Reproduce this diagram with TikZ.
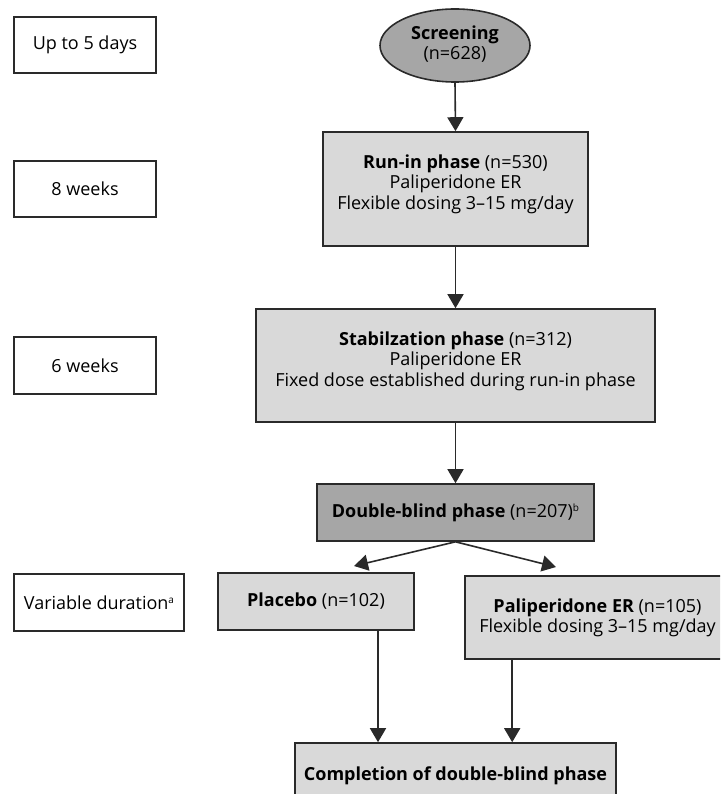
\documentclass[tikz,border=0pt]{standalone}
\usepackage{fontspec}
\setmainfont{Open Sans}
\usetikzlibrary{arrows.meta,shapes.geometric}
\definecolor{edge}{HTML}{2A2A2A}
\definecolor{lightfill}{HTML}{D9D9D9}
\definecolor{darkfill}{HTML}{A6A6A6}
\newcommand{\smallsup}[1]{\raisebox{6pt}{\fontsize{10}{10}\selectfont #1}}
\tikzset{
  boxbase/.style={draw=edge,line width=1.6pt,rectangle,inner sep=0pt,font=\fontsize{18}{20}\selectfont},
  timebox/.style={boxbase,fill=white},
  phasebox/.style={boxbase,fill=lightfill},
  darkbox/.style={boxbase,fill=darkfill},
  txt/.style={inner sep=0pt,align=center,font=\fontsize{18}{20.5}\selectfont},
  arr/.style={draw=edge,line width=1.6pt,-{Triangle[length=14pt,width=16pt]}}
}
\begin{document}
\begin{tikzpicture}[x=1pt,y=-1pt]
\clip (0,0) rectangle (720,794);
\useasboundingbox (0,0) rectangle (720,794);
% time boxes
\node[timebox,minimum width=142pt,minimum height=56pt] (t1) at (85,45) {Up to 5 days};
\node[timebox,minimum width=142pt,minimum height=56pt] (t2) at (85,189) {8 weeks};
\node[timebox,minimum width=142pt,minimum height=57pt] (t3) at (85,365.5) {6 weeks};
\node[timebox,minimum width=170pt,minimum height=57pt] (t4) at (99,602.5) {Variable duration\smallsup{a}};
% screening
\node[draw=edge,line width=1.6pt,fill=darkfill,ellipse,minimum width=150pt,minimum height=73pt,inner sep=0pt] (scr) at (455,45.5) {};
\node[txt] (scrtxt) at (455,44) {\textbf{Screening}\\(n=628)};
% run-in
\node[phasebox,minimum width=265pt,minimum height=114pt] (run) at (455.5,189) {};
\node[txt] (runtxt) at (455.5,184) {\textbf{Run-in phase} (n=530)\\Paliperidone ER\\Flexible dosing 3–15 mg/day};
% stabilization
\node[phasebox,minimum width=399pt,minimum height=113pt] (stab) at (455.5,365.5) {};
\node[txt] (stabtxt) at (455.5,361) {\textbf{Stabilzation phase} (n=312)\\Paliperidone ER\\Fixed dose established during run-in phase};
% double-blind
\node[darkbox,minimum width=277pt,minimum height=57pt] (db) at (455.5,512.5) {\textbf{Double-blind phase} (n=207)\smallsup{b}};
% placebo
\node[phasebox,minimum width=196pt,minimum height=57pt] (pla) at (316,601.5) {\textbf{Placebo} (n=102)};
% paliperidone
\node[phasebox,minimum width=265pt,minimum height=83pt,align=center] (pal) at (597.5,617.5) {\textbf{Paliperidone ER} (n=105)\\Flexible dosing 3–15 mg/day};
% completion
\node[phasebox,minimum width=321pt,minimum height=65pt] (comp) at (455.5,775.5) {\textbf{Completion of double-blind phase}};
% branch targets
\coordinate (bl) at (354,566);
\coordinate (br) at (556,567);
% arrows
\draw[arr] (scr.south) -- (run.north);
\draw[arr] (run.south) -- (stab.north);
\draw[arr] (stab.south) -- (db.north);
\draw[arr] (db.south) -- (bl);
\draw[arr] (db.south) -- (br);
\draw[arr] ([xshift=62pt]pla.south) -- ([xshift=62pt]pla.south |- comp.north);
\draw[arr] ([xshift=48pt]pal.south west) -- ([xshift=48pt]pal.south west |- comp.north);
\end{tikzpicture}
\end{document}
